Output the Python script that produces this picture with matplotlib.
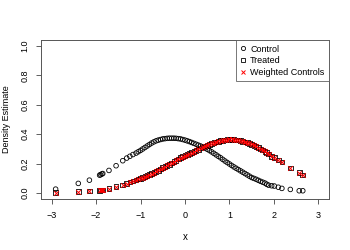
import matplotlib
matplotlib.use("Agg")
import matplotlib.pyplot as plt
from matplotlib.lines import Line2D

plt.rcParams["font.family"] = ["Liberation Sans", "DejaVu Sans"]

# x positions where the densities were evaluated (pooled sample)
x_vals = [
    -2.91, -2.40, -2.15, -1.92, -1.90, -1.87, -1.85, -1.71, -1.55, -1.40, -1.31, -1.24, -1.17,
    -1.10, -1.05, -1.00, -0.95, -0.90, -0.85, -0.80, -0.75, -0.70, -0.65, -0.60, -0.55,
    -0.50, -0.45, -0.40, -0.35, -0.30, -0.25, -0.20, -0.15, -0.10, -0.05, 0.00, 0.05,
    0.10, 0.15, 0.20, 0.25, 0.30, 0.35, 0.40, 0.45, 0.50, 0.55, 0.60, 0.65,
    0.70, 0.75, 0.80, 0.85, 0.90, 0.95, 1.00, 1.05, 1.10, 1.15, 1.20, 1.25,
    1.30, 1.35, 1.40, 1.45, 1.50, 1.55, 1.60, 1.65, 1.70,
    1.75, 1.80, 1.84, 1.88, 1.95, 2.01, 2.10, 2.18, 2.37, 2.57, 2.65,
]

control = [
    0.027, 0.066, 0.088, 0.122, 0.125, 0.130, 0.133, 0.154, 0.186, 0.220, 0.238, 0.250, 0.262,
    0.272, 0.281, 0.290, 0.300, 0.310, 0.320, 0.330, 0.340, 0.348, 0.355, 0.360, 0.364,
    0.368, 0.370, 0.372, 0.373, 0.373, 0.373, 0.372, 0.370, 0.368, 0.364, 0.360, 0.355,
    0.350, 0.344, 0.338, 0.332, 0.326, 0.320, 0.314, 0.306, 0.298, 0.289, 0.280, 0.270,
    0.260, 0.250, 0.240, 0.229, 0.218, 0.208, 0.198, 0.188, 0.178, 0.169, 0.160, 0.151,
    0.142, 0.133, 0.124, 0.115, 0.106, 0.100, 0.094, 0.087, 0.080,
    0.074, 0.068, 0.060, 0.054, 0.050, 0.048, 0.040, 0.032, 0.025, 0.016, 0.016,
]

treated = [
    0.005, 0.009, 0.014, 0.019, 0.020, 0.021, 0.022, 0.032, 0.043, 0.055, 0.066, 0.075, 0.083,
    0.090, 0.095, 0.100, 0.106, 0.112, 0.118, 0.125, 0.132, 0.140, 0.147, 0.155, 0.163,
    0.172, 0.180, 0.188, 0.196, 0.205, 0.213, 0.222, 0.231, 0.240, 0.248, 0.255, 0.262,
    0.268, 0.275, 0.282, 0.290, 0.298, 0.306, 0.313, 0.319, 0.325, 0.331, 0.337, 0.343,
    0.348, 0.352, 0.356, 0.359, 0.362, 0.364, 0.365, 0.365, 0.364, 0.362, 0.360, 0.356,
    0.352, 0.348, 0.343, 0.338, 0.332, 0.325, 0.318, 0.309, 0.300,
    0.292, 0.284, 0.274, 0.266, 0.250, 0.240, 0.225, 0.210, 0.170, 0.140, 0.122,
]

weighted = [
    0.004, 0.009, 0.013, 0.019, 0.020, 0.021, 0.022, 0.031, 0.043, 0.055, 0.065, 0.075, 0.083,
    0.090, 0.095, 0.101, 0.106, 0.112, 0.118, 0.125, 0.132, 0.140, 0.147, 0.155, 0.163,
    0.171, 0.180, 0.188, 0.196, 0.205, 0.213, 0.222, 0.231, 0.239, 0.248, 0.255, 0.262,
    0.268, 0.275, 0.282, 0.290, 0.298, 0.306, 0.313, 0.319, 0.325, 0.331, 0.337, 0.343,
    0.348, 0.352, 0.356, 0.359, 0.362, 0.364, 0.365, 0.365, 0.364, 0.362, 0.360, 0.356,
    0.352, 0.348, 0.343, 0.338, 0.332, 0.325, 0.318, 0.309, 0.300,
    0.292, 0.284, 0.274, 0.266, 0.250, 0.240, 0.225, 0.210, 0.171, 0.140, 0.123,
]

legend_labels = ["Control", "Treated", "Weighted Controls"]

fig = plt.figure(figsize=(3.5, 2.5), dpi=100)
ax = fig.add_axes([0.117, 0.204, 0.823, 0.636])

fs = 6.5
ms = 11
ax.scatter(x_vals, control, s=ms, marker="o", facecolors="none",
           edgecolors="black", linewidths=0.6)
ax.scatter(x_vals, treated, s=ms, marker="s", facecolors="none",
           edgecolors="black", linewidths=0.6)
ax.scatter(x_vals, weighted, s=ms, marker="x", color="red", linewidths=0.7)

ax.set_xlim(-3.24, 3.24)
ax.set_ylim(-0.04, 1.04)
ax.set_xticks([-3, -2, -1, 0, 1, 2, 3])
ax.set_yticks([0.0, 0.2, 0.4, 0.6, 0.8, 1.0])
ax.set_yticklabels(["0.0", "0.2", "0.4", "0.6", "0.8", "1.0"], rotation=90, va="center")
ax.tick_params(labelsize=fs, length=3.5, width=0.6, color="#444444", pad=5)
for s in ax.spines.values():
    s.set_linewidth(0.7)
    s.set_color("#555555")

ax.set_xlabel("x", fontsize=fs + 0.5, labelpad=9)
ax.set_ylabel("Density Estimate", fontsize=fs)
ax.yaxis.set_label_coords(-0.105, 0.5)

handles = [
    Line2D([], [], linestyle="none", marker="o", markerfacecolor="none",
           markeredgecolor="black", markersize=3, markeredgewidth=0.6),
    Line2D([], [], linestyle="none", marker="s", markerfacecolor="none",
           markeredgecolor="black", markersize=3, markeredgewidth=0.6),
    Line2D([], [], linestyle="none", marker="x", color="red",
           markersize=3, markeredgewidth=0.7),
]
leg = ax.legend(handles, legend_labels, loc="upper right", fontsize=fs,
                frameon=True, fancybox=False, borderaxespad=0.0,
                handlelength=0.5, handletextpad=0.6, labelspacing=0.3,
                borderpad=0.5)
leg.get_frame().set_edgecolor("#555555")
leg.get_frame().set_linewidth(0.7)

fig.savefig("out.png", dpi=100)
